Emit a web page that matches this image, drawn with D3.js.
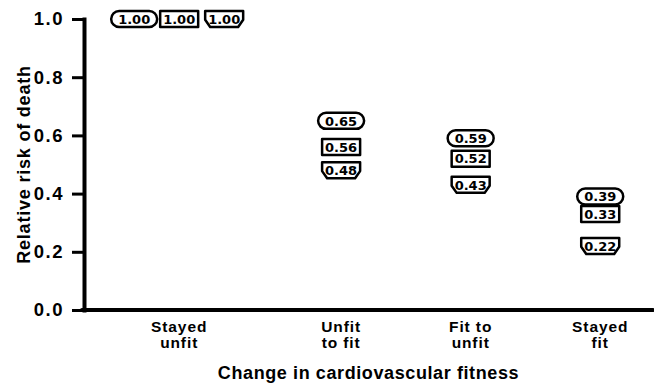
<!DOCTYPE html>
<html>
<head>
<meta charset="utf-8">
<script src="https://cdn.jsdelivr.net/npm/d3@7"></script>
<style>
  html, body { margin: 0; padding: 0; background: #fff; }
  svg { display: block; }
  text { font-family: "Liberation Sans", Arial, Helvetica, sans-serif; font-weight: bold; fill: #000; }
</style>
</head>
<body>
<svg id="chart" width="654" height="385"></svg>
<script>
// Change in cardiovascular fitness vs relative risk of death
const categories = [["Stayed", "unfit"], ["Unfit", "to fit"], ["Fit to", "unfit"], ["Stayed", "fit"]];
const stadiumValues = [1.00, 0.65, 0.59, 0.39];
const rectValues    = [1.00, 0.56, 0.52, 0.33];
const shieldValues  = [1.00, 0.48, 0.43, 0.22];
const yTicks = [0.0, 0.2, 0.4, 0.6, 0.8, 1.0];

const series = [
  { shape: "stadium", values: stadiumValues },
  { shape: "rect",    values: rectValues },
  { shape: "shield",  values: shieldValues }
];

const svg = d3.select("#chart");
const axisX0 = 84, axisX1 = 653, plotTop = 19, plotBottom = 310;

const y = d3.scaleLinear().domain([0, 1]).range([plotBottom, plotTop]);

// A category whose series all tie gets its markers side by side, so its slot is wider.
const tied = categories.map((c, i) => series.every(s => s.values[i] === series[0].values[i]));
const slotUnits = tied.map(t => t ? 1.5 : 1);
const slotStart = d3.cumsum([0, ...slotUnits]);
const slotCenter = slotUnits.map((u, i) => slotStart[i] + u / 2);
const x = d3.scaleLinear().domain([0, d3.sum(slotUnits)]).range([82, 665]);

// Y axis
const yAxis = svg.append("g")
  .attr("transform", `translate(${axisX0},0)`)
  .call(d3.axisLeft(y).tickValues(yTicks).tickFormat(d3.format(".1f")).tickSize(12).tickSizeOuter(0).tickPadding(8));
yAxis.select(".domain").attr("stroke", "#000").attr("stroke-width", 4).attr("stroke-linecap", "square");
yAxis.selectAll(".tick line").attr("stroke", "#000").attr("stroke-width", 3);
yAxis.selectAll(".tick text")
  .style("font-family", "'Liberation Sans', Arial, sans-serif")
  .style("font-weight", "bold")
  .style("letter-spacing", "1.5px")
  .attr("font-size", 18.5).attr("fill", "#000");

// X axis baseline with category labels
const xAxis = svg.append("g");
xAxis.append("line")
  .attr("x1", axisX0 - 2).attr("x2", axisX1)
  .attr("y1", plotBottom).attr("y2", plotBottom)
  .attr("stroke", "#000").attr("stroke-width", 4)
  .attr("stroke-linecap", "round");

categories.forEach((lines, i) => {
  lines.forEach((ln, k) => {
    xAxis.append("text")
      .attr("x", x(slotCenter[i]))
      .attr("y", 332 + k * 15.5)
      .attr("text-anchor", "middle")
      .attr("font-size", 15.5)
      .attr("letter-spacing", 0.9)
      .text(ln);
  });
});

// Axis titles
svg.append("text")
  .attr("transform", `translate(30,${(plotTop + plotBottom) / 2}) rotate(-90)`)
  .attr("text-anchor", "middle")
  .attr("font-size", 18)
  .attr("letter-spacing", 0.8)
  .text("Relative risk of death");

svg.append("text")
  .attr("x", (axisX0 + axisX1) / 2)
  .attr("y", 379)
  .attr("text-anchor", "middle")
  .attr("font-size", 18)
  .attr("letter-spacing", 0.6)
  .text("Change in cardiovascular fitness");

// Marker outlines
const shapeWidth = { stadium: 46, rect: 38, shield: 38 };
const shapeHeight = 16;

function shapePath(shape, cx, cy) {
  const w = shapeWidth[shape], h = shapeHeight;
  const x0 = cx - w / 2, x1 = cx + w / 2, y0 = cy - h / 2, y1 = cy + h / 2;
  const p = d3.path();
  if (shape === "stadium") {
    const r = h / 2;
    p.moveTo(x0 + r, y0);
    p.lineTo(x1 - r, y0);
    p.arc(x1 - r, cy, r, -Math.PI / 2, Math.PI / 2);
    p.lineTo(x0 + r, y1);
    p.arc(x0 + r, cy, r, Math.PI / 2, 3 * Math.PI / 2);
  } else if (shape === "rect") {
    p.rect(x0, y0, w, h);
  } else {
    const c = 5, s = h * 0.55;
    p.moveTo(x0, y0);
    p.lineTo(x1, y0);
    p.lineTo(x1, y0 + s);
    p.lineTo(x1 - c, y1);
    p.lineTo(x0 + c, y1);
    p.lineTo(x0, y0 + s);
  }
  p.closePath();
  return p.toString();
}

const marks = [];
series.forEach((s, si) => {
  s.values.forEach((v, i) => {
    const cx0 = x(slotCenter[i]);
    const cx = tied[i] ? cx0 + (si - 1) * 45 : cx0;
    marks.push({ shape: s.shape, value: v, cx, cy: y(v) });
  });
});

const g = svg.append("g");
const m = g.selectAll("g.mark").data(marks).join("g").attr("class", "mark");
m.append("path")
  .attr("d", d => shapePath(d.shape, d.cx, d.cy))
  .attr("fill", "#fff")
  .attr("stroke", "#000")
  .attr("stroke-width", 2.5)
  .attr("stroke-linejoin", "round");
m.append("text")
  .attr("x", d => d.cx)
  .attr("y", d => d.cy)
  .attr("dy", "0.37em")
  .attr("text-anchor", "middle")
  .style("font-family", "'DejaVu Sans', sans-serif")
  .style("font-weight", "bold")
  .attr("font-size", 13)
  .text(d => d3.format(".2f")(d.value));
</script>
</body>
</html>
